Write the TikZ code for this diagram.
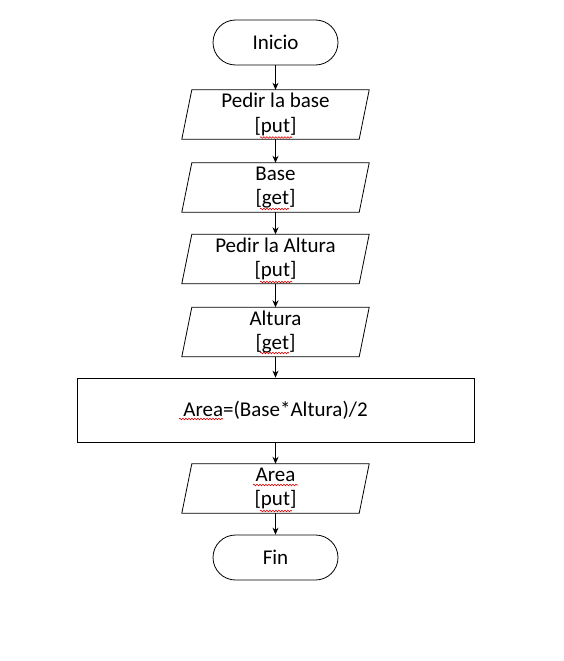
\documentclass[tikz,border=0pt]{standalone}
\usepackage{fontspec}
\setmainfont{Carlito}
\usetikzlibrary{arrows.meta,decorations.pathmorphing}
\begin{document}
\begin{tikzpicture}[x=1pt,y=-1pt,
  every node/.style={font=\fontsize{21}{24.5}\selectfont, align=center, inner sep=0pt},
  term/.style={draw, line width=0.8pt, rounded corners=22.5pt, minimum width=125pt, minimum height=45pt},
  iobox/.style={minimum width=187pt, minimum height=49pt},
  procbox/.style={draw, line width=0.8pt, minimum width=397pt, minimum height=64pt},
  para/.style={line width=0.8pt},
  flow/.style={line width=0.8pt, -{Stealth[length=7pt,width=6pt]}},
  wavy/.style={draw=red!85!black, line width=0.6pt, decorate, decoration={snake, amplitude=0.8pt, segment length=3pt}}]
\useasboundingbox (0,0) rectangle (564,661);
\node[term] (ini) at (275.5,42.5) {Inicio};
\node[iobox] (p1) at (275.5,114.5) {Pedir la base\\{[}put]};
\node[iobox] (p2) at (275.5,187.5) {Base\\{[}get]};
\node[iobox] (p3) at (275.5,259) {Pedir la Altura\\{[}put]};
\node[iobox] (p4) at (275.5,332) {Altura\\{[}get]};
\node[procbox] (calc) at (275.5,410) {Area=(Base*Altura)/2};
\node[iobox] (p5) at (275.5,488.5) {Area\\{[}put]};
\node[term] (fin) at (275.5,557.5) {Fin};
\foreach \n in {p1,p2,p3,p4,p5}{
  \draw[para] ([xshift=10pt]\n.north west) -- (\n.north east) -- ([xshift=-10pt]\n.south east) -- (\n.south west) -- cycle;
}
\draw[flow] (ini) -- (p1);
\draw[flow] (p1) -- (p2);
\draw[flow] (p2) -- (p3);
\draw[flow] (p3) -- (p4);
\draw[flow] (p4) -- (calc);
\draw[flow] (calc) -- (p5);
\draw[flow] (p5) -- (fin);
% spell-check underlines
\path[wavy] ([shift={(-15.5,23)}]p1.center) -- ([shift={(16.5,23)}]p1.center);
\path[wavy] ([shift={(-15.5,21.5)}]p2.center) -- ([shift={(13.5,21.5)}]p2.center);
\path[wavy] ([shift={(-15.5,23)}]p3.center) -- ([shift={(16.5,23)}]p3.center);
\path[wavy] ([shift={(-15.5,21)}]p4.center) -- ([shift={(13.5,21)}]p4.center);
\path[wavy] ([shift={(-22.5,-3.5)}]p5.center) -- ([shift={(22.5,-3.5)}]p5.center);
\path[wavy] ([shift={(-15.5,22.5)}]p5.center) -- ([shift={(16.5,22.5)}]p5.center);
\path[wavy] ([shift={(-96.5,9)}]calc.center) -- ([shift={(-52.5,9)}]calc.center);
\end{tikzpicture}
\end{document}
